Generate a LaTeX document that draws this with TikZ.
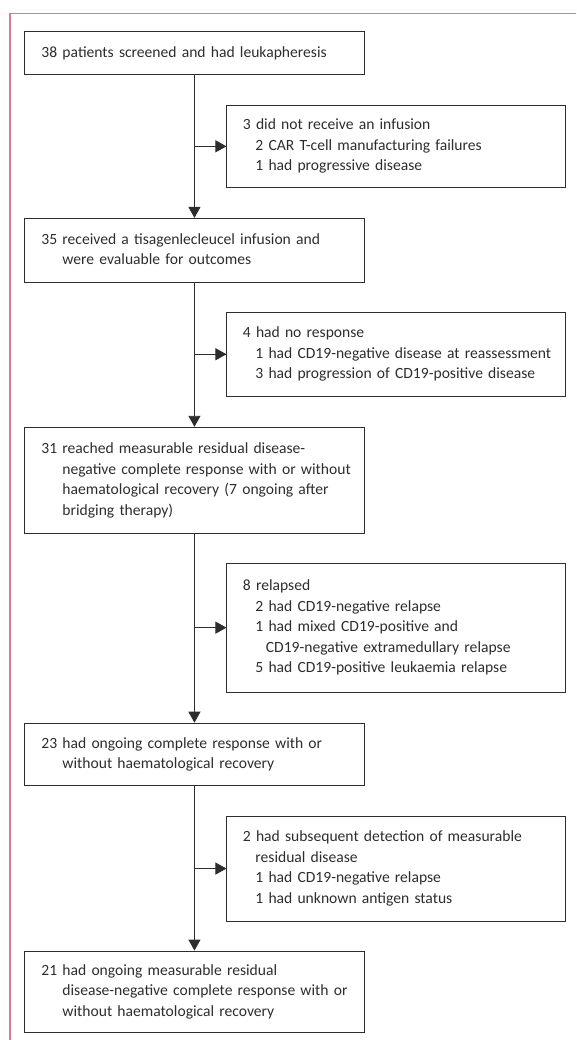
\documentclass[tikz,border=0pt]{standalone}
\usepackage{fontspec}
\setmainfont{Carlito}
\usetikzlibrary{positioning,arrows.meta}

\definecolor{framepink}{RGB}{214,122,152}
\definecolor{boxgray}{RGB}{45,45,45}

\newcommand{\mainind}{\hspace*{21pt}}
\newcommand{\subind}{\hspace*{12.5pt}}
\newcommand{\subsubind}{\hspace*{23pt}}
\newcommand{\boxlines}[1]{\begin{tabular}{@{}l@{}}#1\end{tabular}}

\tikzset{
  mainbox/.style={draw=boxgray, line width=0.9pt, rectangle, minimum width=340pt,
    text width=306pt, inner xsep=17pt, inner ysep=0pt, align=left, text=boxgray,
    font=\fontsize{15.6}{20.5}\selectfont},
  sidebox/.style={mainbox, minimum width=339pt, text width=307pt, inner xsep=16pt},
  flow/.style={draw=boxgray, line width=0.9pt, ->}
}

\begin{document}
\begin{tikzpicture}[x=1pt, y=-1pt, >={Triangle[length=11pt,width=12pt]}]
  \useasboundingbox (0,0) rectangle (576,1040);
  % frame
  \draw[framepink, line width=1.5pt] (10,1040) -- (10,13.5) -- (576,13.5);

  % main column
  \node[mainbox, minimum height=43pt, anchor=north west] (b1) at (24,31)
    {\boxlines{38 patients screened and had leukapheresis}};
  \node[mainbox, minimum height=64pt, below=143pt of b1] (b2)
    {\boxlines{35 received a tisagenlecleucel infusion and\\
     \mainind were evaluable for outcomes}};
  \node[mainbox, minimum height=106pt, below=144pt of b2] (b3)
    {\boxlines{31 reached measurable residual disease-\\
     \mainind negative complete response with or without\\
     \mainind haematological recovery (7 ongoing after\\
     \mainind bridging therapy)}};
  \node[mainbox, minimum height=62pt, below=189pt of b3] (b4)
    {\boxlines{23 had ongoing complete response with or\\
     \mainind without haematological recovery}};
  \node[mainbox, minimum height=81pt, below=165pt of b4] (b5)
    {\boxlines{21 had ongoing measurable residual\\
     \mainind disease-negative complete response with or\\
     \mainind without haematological recovery}};

  % exclusions
  \node[sidebox, minimum height=82pt, below right=30pt and 32pt of b1.south] (s1)
    {\boxlines{3 did not receive an infusion\\
     \subind 2 CAR T-cell manufacturing failures\\
     \subind 1 had progressive disease}};
  \node[sidebox, minimum height=84pt, below right=29pt and 32pt of b2.south] (s2)
    {\boxlines{4 had no response\\
     \subind 1 had CD19-negative disease at reassessment\\
     \subind 3 had progression of CD19-positive disease}};
  \node[sidebox, minimum height=129pt, below right=29pt and 32pt of b3.south] (s3)
    {\boxlines{8 relapsed\\
     \subind 2 had CD19-negative relapse\\
     \subind 1 had mixed CD19-positive and\\
     \subsubind CD19-negative extramedullary relapse\\
     \subind 5 had CD19-positive leukaemia relapse}};
  \node[sidebox, minimum height=105pt, below right=30pt and 32pt of b4.south] (s4)
    {\boxlines{2 had subsequent detection of measurable\\
     \subind residual disease\\
     \subind 1 had CD19-negative relapse\\
     \subind 1 had unknown antigen status}};

  % arrows
  \draw[flow] (b1.south) -- (b2.north);
  \draw[flow] (b2.south) -- (b3.north);
  \draw[flow] (b3.south) -- (b4.north);
  \draw[flow] (b4.south) -- (b5.north);
  \draw[flow] (s1.west -| b1.south) -- (s1.west);
  \draw[flow] (s2.west -| b2.south) -- (s2.west);
  \draw[flow] (s3.west -| b3.south) -- (s3.west);
  \draw[flow] (s4.west -| b4.south) -- (s4.west);
\end{tikzpicture}
\end{document}
